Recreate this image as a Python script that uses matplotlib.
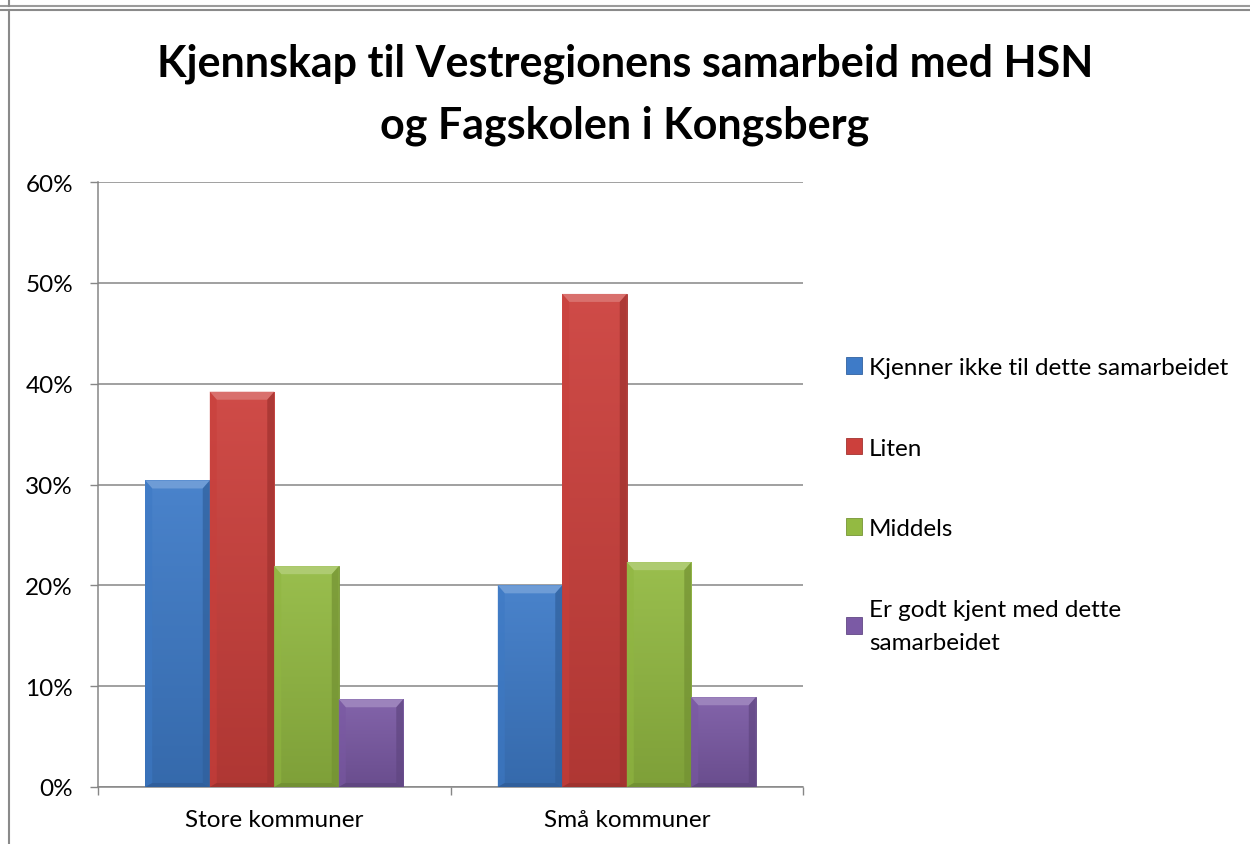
import numpy as np
import matplotlib
matplotlib.use("Agg")
import matplotlib.pyplot as plt
from matplotlib.lines import Line2D
from matplotlib.patches import Polygon
from matplotlib.colors import to_rgb

# data
categories = ["Store kommuner", "Små kommuner"]
series = ["Kjenner ikke til dette samarbeidet", "Liten", "Middels",
          "Er godt kjent med dette\nsamarbeidet"]
kjenner_ikke = [0.304, 0.200]
liten = [0.392, 0.489]
middels = [0.219, 0.223]
godt_kjent = [0.087, 0.089]
values = [kjenner_ikke, liten, middels, godt_kjent]
colors = ["#3E7BC8", "#CC403C", "#93BA42", "#7B5AA5"]
title = "Kjennskap til Vestregionens samarbeid med HSN\nog Fagskolen i Kongsberg"

plt.rcParams['font.family'] = ['Lato', 'DejaVu Sans']

W, H = 1250, 845
fig = plt.figure(figsize=(12.5, 8.45), dpi=100)
ax = fig.add_axes([98 / W, 57 / H, 705 / W, 605 / H])

grid_c = "#868686"


def shade(c, f):
    r = np.array(to_rgb(c))
    if f > 0:
        return tuple(r + (1 - r) * f)
    return tuple(r * (1 + f))


x = np.arange(len(categories))
bw = 0.183
ax.set_xlim(-0.5, 1.5)
ax.set_ylim(0, 0.6)

# bevel size in data units (~7 px wide, ~8 px high)
bx = 7 * 2.0 / 705
by = 8 * 0.6 / 605

for i, vals in enumerate(values):
    offs = (i - 1.5) * bw
    bars = ax.bar(x + offs, vals, bw, color=colors[i], label=series[i],
                  zorder=3, edgecolor=shade(colors[i], -0.2), linewidth=0.6)
    for b in bars:
        x0, w, h = b.get_x(), b.get_width(), b.get_height()
        # vertical gradient on the face
        grad = np.linspace(0, 1, 64)[:, None]
        top = np.array(shade(colors[i], 0.06))
        bot = np.array(shade(colors[i], -0.14))
        img = top + (bot - top) * grad[..., None]
        img = np.repeat(img, 2, axis=1)
        im = ax.imshow(img, extent=(x0, x0 + w, 0, h), aspect='auto',
                       zorder=3.2, origin='upper', interpolation='bilinear')
        im.set_clip_path(b)
        # bevel facets
        ax.add_patch(Polygon([(x0, h), (x0 + w, h), (x0 + w - bx, h - by), (x0 + bx, h - by)],
                             closed=True, color=shade(colors[i], 0.25), lw=0, zorder=3.4))
        ax.add_patch(Polygon([(x0, h), (x0 + bx, h - by), (x0 + bx, by * 0.5), (x0, 0)],
                             closed=True, color=shade(colors[i], -0.02), alpha=0.6, lw=0, zorder=3.4))
        ax.add_patch(Polygon([(x0 + w, h), (x0 + w - bx, h - by), (x0 + w - bx, by * 0.5), (x0 + w, 0)],
                             closed=True, color=shade(colors[i], -0.22), alpha=0.7, lw=0, zorder=3.4))
        ax.add_patch(Polygon([(x0, 0), (x0 + bx, by * 0.5), (x0 + w - bx, by * 0.5), (x0 + w, 0)],
                             closed=True, color=shade(colors[i], -0.25), alpha=0.7, lw=0, zorder=3.4))

ax.set_yticks(np.arange(0, 0.61, 0.1))
ax.set_yticklabels([f"{int(round(v * 100))}%" for v in np.arange(0, 0.61, 0.1)])
ax.set_xticks(x)
ax.set_xticklabels(categories)
ax.set_xticks([-0.5, 0.5, 1.5], minor=True)
ax.tick_params(axis='x', which='major', length=0, pad=16, labelsize=17.5)
ax.tick_params(axis='x', which='minor', length=6, width=1, color=grid_c, direction='out')
ax.tick_params(axis='y', length=6, width=1, color=grid_c, direction='out', pad=12, labelsize=17.5)

ax.grid(axis='y', color=grid_c, linewidth=1.1, zorder=0)
ax.set_axisbelow(True)
for s in ['top', 'right']:
    ax.spines[s].set_visible(False)
for s in ['left', 'bottom']:
    ax.spines[s].set_color(grid_c)
    ax.spines[s].set_linewidth(1.1)

leg = ax.legend(loc='upper left', bbox_to_anchor=(846 / W, 1 - 358 / H),
                bbox_transform=fig.transFigure, frameon=False, fontsize=17.5,
                handlelength=0.65, handleheight=0.65, handletextpad=0.3,
                labelspacing=2.45, borderaxespad=0, borderpad=0)
for t in leg.get_texts():
    t.set_linespacing(1.7)

fig.text(0.5, 1 - 95 / H, title, ha='center', va='center', fontsize=31,
         fontweight='bold', linespacing=1.65)

# outer frame lines
fig.add_artist(Line2D([0, 1], [1 - 7 / H, 1 - 7 / H], transform=fig.transFigure,
                      color="#9a9a9a", lw=1.5))
fig.add_artist(Line2D([0, 1], [1 - 11 / H, 1 - 11 / H], transform=fig.transFigure,
                      color="#8a8a8a", lw=1.5))
fig.add_artist(Line2D([9 / W, 9 / W], [0, 1 - 11 / H], transform=fig.transFigure,
                      color="#8a8a8a", lw=1.5))
fig.add_artist(Line2D([9 / W, 9 / W], [1 - 7 / H, 1], transform=fig.transFigure,
                      color="#8a8a8a", lw=1.5))

fig.savefig("out.png", dpi=100)
